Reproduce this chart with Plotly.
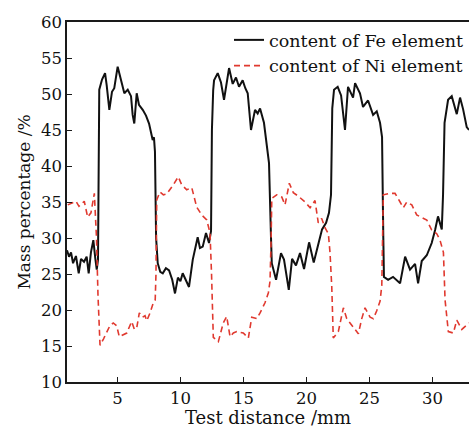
import plotly.graph_objects as go

# Fe content (black solid)
fe_x = [1.0, 1.16, 1.32, 1.48, 1.71, 1.93, 2.11, 2.35, 2.56, 2.72, 2.90, 3.09, 3.25, 3.36, 3.46,
        3.56, 3.78, 4.02, 4.15, 4.36, 4.57, 4.75, 5.02, 5.29, 5.55, 5.82, 6.08, 6.21, 6.34, 6.53,
        6.71, 7.01, 7.27, 7.51, 7.80, 7.90, 7.98, 8.07, 8.20, 8.40, 8.60, 8.85, 9.10, 9.35, 9.57,
        9.80, 10.00, 10.18, 10.45, 10.68, 10.98, 11.15, 11.37, 11.55, 11.77, 12.03, 12.27, 12.43,
        12.50, 12.60, 12.67, 12.96, 13.22, 13.46, 13.65, 13.86, 14.15, 14.41, 14.65, 14.94, 15.15,
        15.34, 15.60, 15.92, 16.13, 16.32, 16.63, 16.87, 17.03, 17.19, 17.25, 17.59, 17.98, 18.22,
        18.60, 18.86, 19.17, 19.49, 19.81, 20.21, 20.58, 20.98, 21.24, 21.56, 21.79, 21.95, 22.05,
        22.19, 22.48, 22.75, 22.98, 23.06, 23.30, 23.70, 23.86, 24.25, 24.49, 24.89, 25.29, 25.58,
        25.84, 26.00, 26.10, 26.15, 26.48, 26.87, 27.43, 27.83, 28.22, 28.62, 28.86, 29.15, 29.55,
        29.94, 30.21, 30.44, 30.74, 30.84, 30.96, 31.24, 31.53, 31.93, 32.19, 32.43, 32.72, 32.90]
fe_y = [28.3, 27.4, 28.0, 26.5, 27.5, 25.1, 27.1, 26.7, 27.4, 25.1, 28.0, 29.7, 27.1, 25.6, 27.0,
        50.6, 52.0, 52.9, 51.2, 47.8, 50.3, 50.8, 53.8, 52.0, 50.1, 50.6, 49.7, 47.1, 45.9, 50.1,
        48.5, 47.8, 47.0, 45.9, 43.6, 44.0, 42.0, 30.0, 26.5, 25.3, 25.1, 25.8, 25.5, 24.2, 22.3,
        24.5, 24.0, 25.1, 24.0, 23.2, 27.0, 28.2, 30.1, 28.6, 28.8, 30.7, 29.3, 31.0,
        45.0, 50.5, 51.9, 52.9, 51.6, 49.2, 51.5, 53.6, 51.4, 52.3, 51.0, 51.9, 50.8,
        50.1, 45.0, 47.8, 47.3, 48.0, 46.0, 42.6, 40.4, 30.0, 26.5, 24.2, 27.9, 27.0,
        22.8, 27.1, 26.2, 27.9, 25.7, 29.4, 26.6, 29.4, 31.2, 32.1, 33.5, 36.0, 48.0,
        50.6, 51.0, 49.8, 45.4, 45.0, 51.0, 49.5, 51.5, 50.1, 48.2, 49.1, 47.1, 47.6,
        46.0, 44.0, 30.0, 24.6, 24.2, 24.6, 23.7, 27.4, 25.6, 26.4, 23.7, 26.8, 27.6,
        29.3, 31.1, 33.0, 31.2, 36.0, 46.0, 49.2, 49.7, 47.2, 49.5, 47.9, 45.4, 45.0]

# Ni content (red dashed)
ni_x = [1.06, 1.45, 1.71, 1.95, 2.37, 2.64, 2.90, 3.17, 3.34, 3.46, 3.62, 3.90, 4.15, 4.40, 4.67,
        4.94, 5.15, 5.45, 5.74, 6.13, 6.35, 6.53, 6.74, 7.00, 7.19, 7.33, 7.59, 7.85, 8.00, 8.06,
        8.12, 8.38, 8.65, 8.91, 9.20, 9.44, 9.83, 10.10, 10.50, 10.90, 11.29, 11.69, 12.09, 12.35,
        12.47, 12.61, 13.01, 13.40, 13.67, 13.94, 14.20, 14.47, 14.99, 15.39, 15.66, 16.06, 16.32,
        16.71, 16.98, 17.11, 17.20, 17.25, 17.64, 18.04, 18.30, 18.64, 18.96, 19.36, 19.89, 20.29,
        20.68, 20.94, 21.21, 21.48, 21.74, 21.87, 22.01, 22.13, 22.53, 22.93, 23.20, 23.60, 23.86,
        24.12, 24.39, 24.65, 25.05, 25.31, 25.58, 25.84, 25.98, 26.05, 26.10, 26.63, 27.03, 27.43,
        27.69, 27.96, 28.36, 28.75, 29.15, 29.55, 29.94, 30.34, 30.60, 30.87, 31.00, 31.26, 31.66,
        31.93, 32.33, 32.72, 32.90]
ni_y = [34.6, 34.9, 35.1, 34.4, 35.1, 32.9, 33.5, 36.2, 30.0, 22.0, 15.1, 16.0, 16.8, 17.8, 18.2,
        17.8, 16.3, 16.6, 16.8, 18.4, 17.3, 17.5, 19.6, 19.0, 19.2, 18.5, 19.6, 21.0, 21.4, 25.0,
        35.3, 36.4, 36.0, 36.1, 36.8, 37.4, 38.5, 37.4, 36.7, 37.0, 34.3, 33.2, 32.5, 30.7,
        25.0, 16.2, 15.6, 18.2, 19.1, 16.3, 16.8, 17.0, 16.8, 16.1, 19.0, 18.8, 19.6,
        21.0, 22.4, 24.0, 30.0, 35.5, 36.0, 35.7, 34.6, 37.6, 36.3, 35.8, 35.0, 34.2,
        35.2, 32.1, 32.7, 31.4, 30.6, 28.0, 23.2, 16.1, 17.0, 20.3, 18.8, 17.9, 17.4,
        16.7, 18.8, 20.3, 19.0, 18.8, 19.9, 21.2, 23.4, 30.0, 36.0, 36.2, 36.2, 35.0,
        34.2, 35.0, 34.6, 33.2, 32.9, 32.5, 31.1, 30.6, 29.7, 28.0, 21.4, 17.0, 16.8,
        18.6, 17.3, 18.0, 18.2]

x_ticks = [5, 10, 15, 20, 25, 30]
y_ticks = [10, 15, 20, 25, 30, 35, 40, 45, 50, 55, 60]

FONT = "DejaVu Serif"
AX = "#1a1a1a"
TXT = "#111111"

fig = go.Figure()
fig.add_trace(go.Scatter(x=fe_x, y=fe_y, mode="lines", name="content of Fe element",
                         line=dict(color="#111111", width=2)))
fig.add_trace(go.Scatter(x=ni_x, y=ni_y, mode="lines", name="content of Ni element",
                         line=dict(color="#e0392f", width=1.6, dash="6px,4px")))

fig.update_layout(
    width=469, height=428,
    margin=dict(l=67, r=0, t=22, b=46),
    paper_bgcolor="white", plot_bgcolor="white",
    font=dict(family=FONT, size=16, color=TXT),
    showlegend=True,
    legend=dict(x=1.0, xanchor="right", y=1.0, yanchor="top",
                bgcolor="rgba(255,255,255,0)", borderwidth=0,
                font=dict(family=FONT, size=17.5, color=TXT),
                tracegroupgap=0, itemwidth=30),
    xaxis=dict(range=[1.0, 32.9], tickvals=x_ticks, ticks="inside", ticklen=5,
               tickcolor=AX, showline=True, linecolor=AX, linewidth=1.5, mirror=True,
               showgrid=False, zeroline=False,
               title=dict(text="Test distance /mm", font=dict(family=FONT, size=18, color=TXT), standoff=1),
               tickfont=dict(family=FONT, size=16.5, color=TXT)),
    yaxis=dict(range=[10, 60], tickvals=y_ticks, ticks="inside", ticklen=5,
               tickcolor=AX, showline=True, linecolor=AX, linewidth=1.5,
               showgrid=False, zeroline=False,
               title=dict(text="Mass percentage /%", font=dict(family=FONT, size=17, color=TXT), standoff=6),
               tickfont=dict(family=FONT, size=16.5, color=TXT)),
)

fig.write_html("out.html", config={"displayModeBar": False},
               post_script="document.body.style.margin='0';document.body.style.overflow='hidden';")
